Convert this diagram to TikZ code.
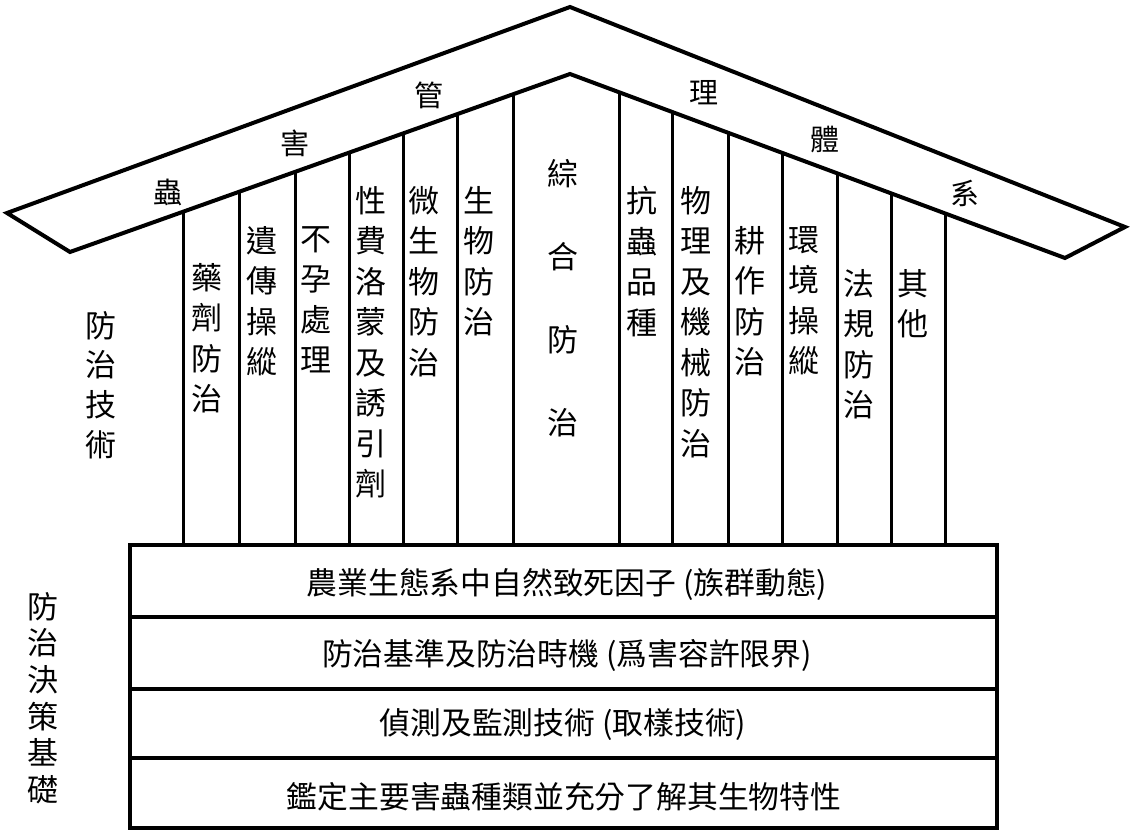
\documentclass[tikz,border=0pt]{standalone}
\usepackage{fontspec}
\setmainfont{Noto Sans CJK TC}

\begin{document}
\begin{tikzpicture}[x=0.5pt, y=-0.5pt,
                roof/.style = {line width=2pt, line join=miter},
                bar/.style = {line width=1.5pt},
                layer/.style = {line width=1.7pt},
                word/.style = {inner sep=0pt, font=\fontsize{14.5}{14.5}\selectfont},
                pillar/.style = {inner sep=0pt, anchor=north, align=center, font=\fontsize{15.5}{20.25}\selectfont},
                rowtext/.style = {inner sep=0pt, font=\fontsize{15.4}{15.4}\selectfont}]
                \useasboundingbox (0,0) rectangle (1140,833);

                % roof
                \draw[roof] (7,213) -- (570,7) -- (1125,227) -- (1065,258) -- (570,74) -- (70,252) -- cycle;
                \node[word] at (168,192) (w1) {蟲};
                \node[word] at (295,143) (w2) {害};
                \node[word] at (429,95) (w3) {管};
                \node[word] at (704,93) (w4) {理};
                \node[word] at (825,140) (w5) {體};
                \node[word] at (965,193) (w6) {系};

                % pillars
                \draw[bar] (183,212) -- (183,545);
                \draw[bar] (239,192) -- (239,545);
                \draw[bar] (295,172) -- (295,545);
                \draw[bar] (349,153) -- (349,545);
                \draw[bar] (403,133) -- (403,545);
                \draw[bar] (457,114) -- (457,545);
                \draw[bar] (513,94) -- (513,545);
                \draw[bar] (619,92) -- (619,545);
                \draw[bar] (672,112) -- (672,545);
                \draw[bar] (728,133) -- (728,545);
                \draw[bar] (782,153) -- (782,545);
                \draw[bar] (837,173) -- (837,545);
                \draw[bar] (891,193) -- (891,545);
                \draw[bar] (945,213) -- (945,545);

                \node[pillar] at (207,263) (col1) {藥\\劑\\防\\治};
                \node[pillar] at (262,226) (col2) {遺\\傳\\操\\縱};
                \node[pillar] at (316,226) (col3) {不\\孕\\處\\理};
                \node[pillar] at (371,186) (col4) {性\\費\\洛\\蒙\\及\\誘\\引\\劑};
                \node[pillar] at (424,186) (col5) {微\\生\\物\\防\\治};
                \node[pillar] at (479,186) (col6) {生\\物\\防\\治};
                \node[pillar, font=\fontsize{15.5}{41.5}\selectfont] at (563,159) (col7) {綜\\合\\防\\治};
                \node[pillar] at (642,186) (col8) {抗\\蟲\\品\\種};
                \node[pillar] at (696,186) (col9) {物\\理\\及\\機\\械\\防\\治};
                \node[pillar] at (750,226) (col10) {耕\\作\\防\\治};
                \node[pillar] at (804,226) (col11) {環\\境\\操\\縱};
                \node[pillar] at (859,269) (col12) {法\\規\\防\\治};
                \node[pillar] at (913,269) (col13) {其\\他};

                \node[pillar, font=\fontsize{15.5}{19.8}\selectfont] at (101,311) (tech) {防\\治\\技\\術};
                \node[pillar, font=\fontsize{15.5}{18.3}\selectfont] at (43,592) (basis) {防\\治\\決\\策\\基\\礎};

                % foundation
                \draw[layer] (130,545) rectangle (997,828);
                \draw[layer] (130,617) -- (997,617);
                \draw[layer] (130,689) -- (997,689);
                \draw[layer] (130,758) -- (997,758);
                \node[rowtext] at (567,584) (row1) {農業生態系中自然致死因子 (族群動態)};
                \node[rowtext] at (567,655) (row2) {防治基準及防治時機 (爲害容許限界)};
                \node[rowtext] at (563,725) (row3) {偵測及監測技術 (取樣技術)};
                \node[rowtext] at (564,797) (row4) {鑑定主要害蟲種類並充分了解其生物特性};
\end{tikzpicture}
\end{document}
